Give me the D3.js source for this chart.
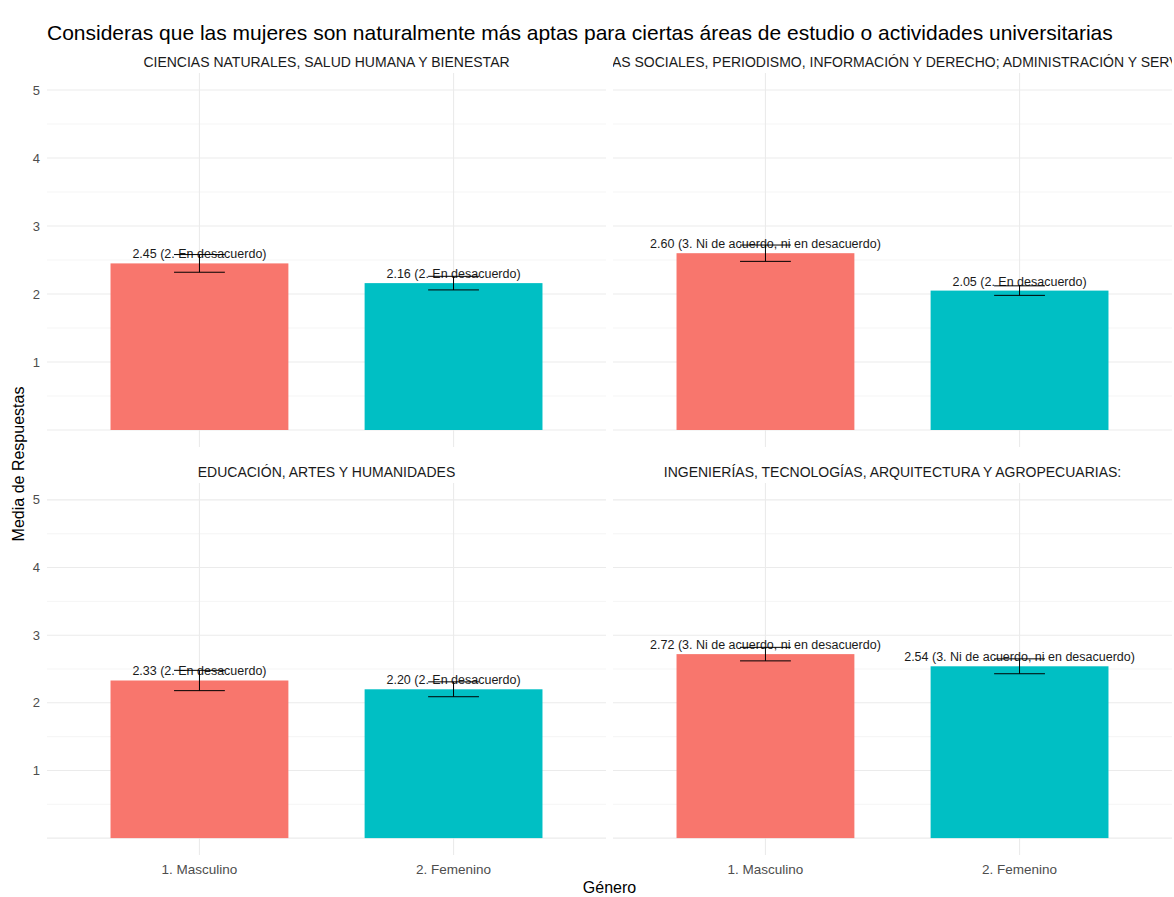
<!DOCTYPE html>
<html>
<head>
<meta charset="utf-8">
<script src="https://cdn.jsdelivr.net/npm/d3@7"></script>
<style>
    body { margin: 0; background: #fff; }
    svg { font-family: "Liberation Sans", Arial, sans-serif; }
</style>
</head>
<body>
<div id="chart"></div>
<script>
// data
let titulo = 'Consideras que las mujeres son naturalmente más aptas para ciertas áreas de estudio o actividades universitarias';
let areas = [
    'CIENCIAS NATURALES, SALUD HUMANA Y BIENESTAR',
    'CIENCIAS SOCIALES, PERIODISMO, INFORMACIÓN Y DERECHO; ADMINISTRACIÓN Y SERVICIOS:',
    'EDUCACIÓN, ARTES Y HUMANIDADES',
    'INGENIERÍAS, TECNOLOGÍAS, ARQUITECTURA Y AGROPECUARIAS:'
];
let generos = ['1. Masculino', '2. Femenino'];
let mediaMasculino = [2.45, 2.60, 2.33, 2.72];
let mediaFemenino = [2.16, 2.05, 2.20, 2.54];
let errorMasculino = [0.13, 0.12, 0.15, 0.10];
let errorFemenino = [0.10, 0.07, 0.11, 0.11];
let escala = [
    '1. Totalmente en desacuerdo',
    '2. En desacuerdo',
    '3. Ni de acuerdo, ni en desacuerdo',
    '4. De acuerdo',
    '5. Totalmente de acuerdo'
];
let yTicks = [1, 2, 3, 4, 5];
let yGrid = [0, 0.5, 1, 1.5, 2, 2.5, 3, 3.5, 4, 4.5, 5];
let colores = ['#F8766D', '#00BFC4'];

const width = 1174, height = 897;

// panel boxes (facet_wrap, 2 x 2)
let cols = [[47, 606], [613, 1172]];
let rows = [[73, 447], [483, 855]];

let svg = d3.select('#chart').append('svg')
    .attr('width', width)
    .attr('height', height);

svg.append('text')
    .attr('x', 47)
    .attr('y', 40)
    .attr('font-size', 21)
    .attr('fill', '#000')
    .text(titulo);

for (let i = 0; i < areas.length; i++) {
    drawPanel(i);
}

// axis titles
svg.append('text')
    .attr('x', (cols[0][0] + cols[1][1]) / 2)
    .attr('y', 893)
    .attr('text-anchor', 'middle')
    .attr('font-size', 16)
    .attr('fill', '#000')
    .text('Género');

svg.append('text')
    .attr('transform', `translate(24, ${(rows[0][0] + rows[1][1]) / 2}) rotate(-90)`)
    .attr('text-anchor', 'middle')
    .attr('font-size', 16)
    .attr('fill', '#000')
    .text('Media de Respuestas');

function drawPanel(i) {
    let c = cols[i % 2], r = rows[Math.floor(i / 2)];
    let x = d3.scalePoint().domain(generos).range(c).padding(0.6);
    let y = d3.scaleLinear().domain([-0.25, 5.25]).range([r[1], r[0]]);
    let step = x.step();

    let g = svg.append('g');

    // strip text is clipped to the panel width, as in the original
    let clipId = 'clip' + i;
    svg.append('clipPath').attr('id', clipId)
        .append('rect')
        .attr('x', c[0]).attr('y', r[0] - 25)
        .attr('width', c[1] - c[0]).attr('height', 25);

    g.append('text')
        .attr('clip-path', `url(#${clipId})`)
        .attr('x', (c[0] + c[1]) / 2)
        .attr('y', r[0] - 6)
        .attr('text-anchor', 'middle')
        .attr('font-size', 14)
        .attr('fill', '#1a1a1a')
        .text(areas[i]);

    // gridlines
    g.selectAll('.hgrid')
        .data(yGrid)
        .join('line')
        .attr('x1', c[0]).attr('x2', c[1])
        .attr('y1', d => y(d)).attr('y2', d => y(d))
        .attr('stroke', d => Number.isInteger(d) ? '#ebebeb' : '#f2f2f2')
        .attr('stroke-width', d => Number.isInteger(d) ? 1.1 : 0.8);

    g.selectAll('.vgrid')
        .data(generos)
        .join('line')
        .attr('x1', d => x(d)).attr('x2', d => x(d))
        .attr('y1', r[0]).attr('y2', r[1])
        .attr('stroke', '#ebebeb')
        .attr('stroke-width', 1.1);

    // y tick labels on the left column
    if (i % 2 == 0) {
        g.selectAll('.ylab')
            .data(yTicks)
            .join('text')
            .attr('x', c[0] - 7)
            .attr('y', d => y(d))
            .attr('dy', '0.35em')
            .attr('text-anchor', 'end')
            .attr('font-size', 13)
            .attr('fill', '#4d4d4d')
            .text(d => d);
    }

    // x tick labels on the bottom row
    if (i >= 2) {
        g.selectAll('.xlab')
            .data(generos)
            .join('text')
            .attr('x', d => x(d))
            .attr('y', r[1] + 19)
            .attr('text-anchor', 'middle')
            .attr('font-size', 13.5)
            .attr('fill', '#4d4d4d')
            .text(d => d);
    }

    let datos = [
        {genero: generos[0], media: mediaMasculino[i], err: errorMasculino[i], color: colores[0]},
        {genero: generos[1], media: mediaFemenino[i], err: errorFemenino[i], color: colores[1]}
    ];

    let bw = step * 0.7, ew = step * 0.2;

    g.selectAll('.bar')
        .data(datos)
        .join('rect')
        .attr('x', d => x(d.genero) - bw / 2)
        .attr('width', bw)
        .attr('y', d => y(d.media))
        .attr('height', d => y(0) - y(d.media))
        .attr('fill', d => d.color);

    // value labels
    g.selectAll('.lab')
        .data(datos)
        .join('text')
        .attr('x', d => x(d.genero))
        .attr('y', d => y(d.media) - 5)
        .attr('text-anchor', 'middle')
        .attr('font-size', 12.5)
        .attr('fill', '#1a1a1a')
        .text(d => `${d.media.toFixed(2)} (${escala[Math.round(d.media) - 1]})`);

    // error bars
    let eb = g.selectAll('.err')
        .data(datos)
        .join('g')
        .attr('stroke', '#000')
        .attr('stroke-width', 1);
    eb.append('line')
        .attr('x1', d => x(d.genero)).attr('x2', d => x(d.genero))
        .attr('y1', d => y(d.media - d.err)).attr('y2', d => y(d.media + d.err));
    eb.append('line')
        .attr('x1', d => x(d.genero) - ew / 2).attr('x2', d => x(d.genero) + ew / 2)
        .attr('y1', d => y(d.media - d.err)).attr('y2', d => y(d.media - d.err));
    eb.append('line')
        .attr('x1', d => x(d.genero) - ew / 2).attr('x2', d => x(d.genero) + ew / 2)
        .attr('y1', d => y(d.media + d.err)).attr('y2', d => y(d.media + d.err));
}
</script>
</body>
</html>
